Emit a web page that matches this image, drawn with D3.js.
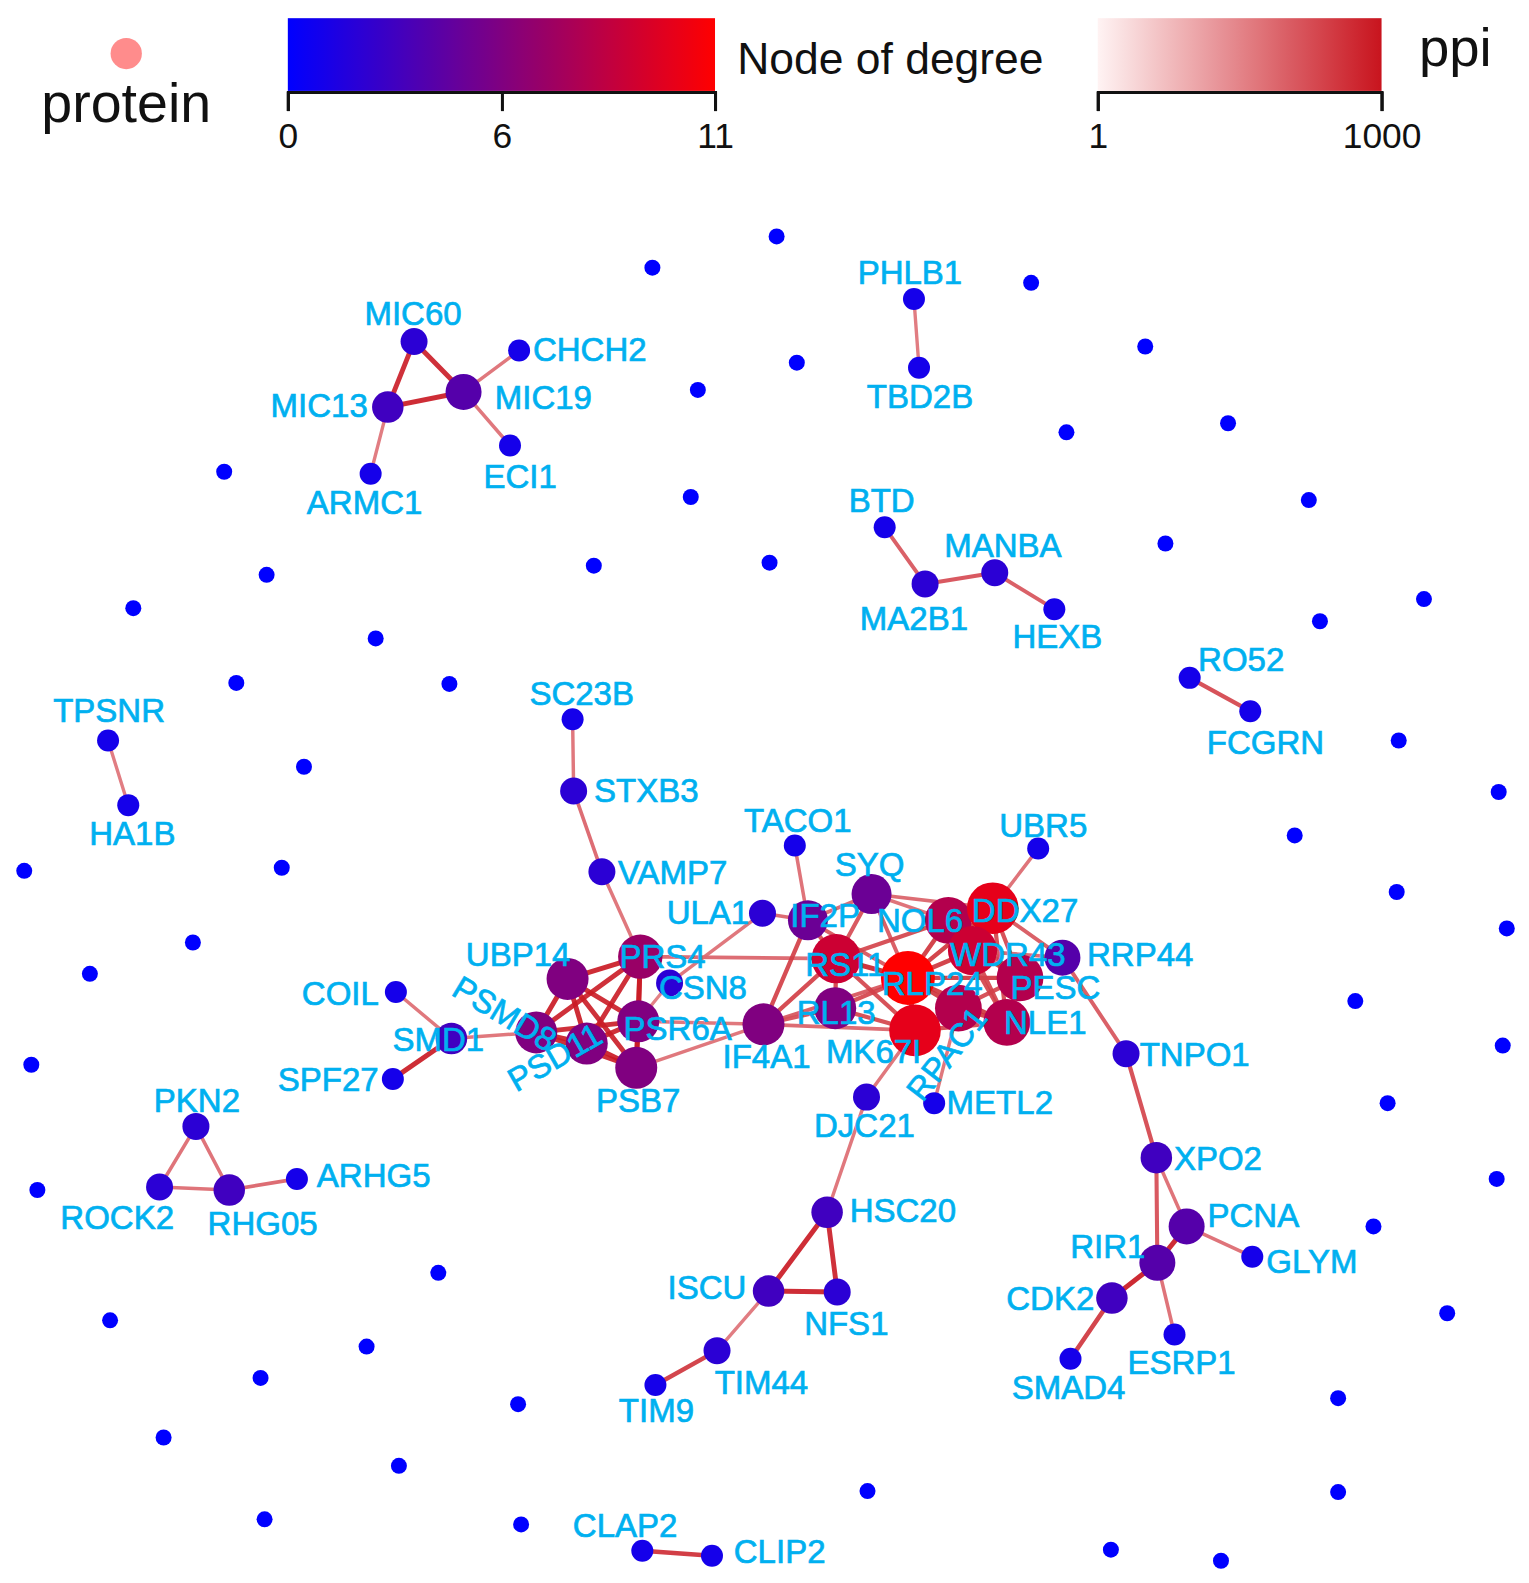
<!DOCTYPE html>
<html>
<head>
<meta charset="utf-8">
<script src="https://cdn.jsdelivr.net/npm/d3@7"></script>
<style>
  html, body { margin: 0; padding: 0; background: #fff; }
  svg { display: block; }
</style>
</head>
<body>
<svg id="chart" width="1529" height="1583"></svg>
<script>
// ---------------- DATA ----------------
// proteins: name, layout x, layout y, node degree
const proteins = [
  ["MIC60",410,338,2],["MIC13",384,403,3],["MIC19",459,388,4],["CHCH2",514,347,1],
  ["ECI1",505,441,1],["ARMC1",367,469,1],["PHLB1",905,296,1],["TBD2B",910,364,1],
  ["BTD",876,522,1],["MA2B1",916,578,2],["MANBA",985,567,2],["HEXB",1044,603,1],
  ["RO52",1178,671,1],["FCGRN",1238,704,1],["TPSNR",107,733,1],["HA1B",127,797,1],
  ["SC23B",567,712,1],["STXB3",568,783,2],["VAMP7",596,863,2],["TACO1",787,837,1],
  ["UBR5",1028,840,1],["SYQ",863,885,5],["ULA1",755,904,2],["IF2P",800,911,5],
  ["NOL6",939,911,8],["DDX27",983,899,10],["WDR43",963,941,9],["RRP44",1052,948,4],
  ["RS11",828,949,9],["RLP24",899,968,11],["PESC",1010,968,8],["RL13",827,998,6],
  ["MK67I",906,1020,10],["RPAC1",949,998,8],["NLE1",997,1012,8],["IF4A1",756,1014,6],
  ["UBP14",562,969,6],["PRS4",634,947,7],["CSN8",663,973,2],["PSR6A",632,1011,6],
  ["PSMD8",531,1022,6],["PSD11",581,1033,6],["PSB7",630,1057,6],["COIL",392,982,1],
  ["SMD1",447,1028,3],["SPF27",389,1068,1],["DJC21",858,1086,2],["METL2",925,1092,1],
  ["TNPO1",1115,1043,2],["XPO2",1145,1146,3],["PCNA",1175,1214,4],["RIR1",1146,1250,4],
  ["GLYM",1240,1244,1],["CDK2",1101,1285,3],["SMAD4",1060,1345,1],["ESRP1",1163,1321,1],
  ["HSC20",819,1200,3],["ISCU",761,1278,3],["NFS1",829,1279,2],["TIM44",710,1337,2],
  ["TIM9",649,1371,1],["PKN2",194,1115,2],["ROCK2",158,1175,2],["RHG05",227,1178,3],
  ["ARHG5",294,1167,1],["CLAP2",636,1535,1],["CLIP2",705,1540,1]
];

// unlabeled proteins with no interaction (degree 0): layout x, layout y
const isolated = [
  [769,234],[646,265],[1021,280],[789,359],[691,386],[1134,343],[1216,419],[1056,428],
  [222,467],[684,492],[1296,495],[1154,538],[264,569],[588,560],[762,557],[132,602],
  [1410,593],[1307,615],[372,632],[234,676],[445,677],[1385,733],[301,759],[1484,784],
  [1282,827],[279,859],[24,862],[1383,883],[1492,919],[191,933],[89,964],[1342,991],
  [31,1054],[1488,1035],[1374,1092],[37,1178],[1482,1167],[1360,1214],[434,1260],
  [109,1307],[1433,1300],[363,1333],[258,1364],[1325,1384],[513,1390],[162,1423],
  [395,1451],[859,1476],[1325,1477],[262,1504],[516,1509],[1100,1534],[1209,1545]
];

// interactions: source, target, ppi score
const interactions = [
  ["MIC60","MIC13",800],["MIC60","MIC19",800],["MIC13","MIC19",900],["MIC19","CHCH2",70],
  ["MIC19","ECI1",70],["MIC13","ARMC1",60],["PHLB1","TBD2B",60],["BTD","MA2B1",150],
  ["MA2B1","MANBA",200],["MANBA","HEXB",150],["RO52","FCGRN",250],["TPSNR","HA1B",60],
  ["SC23B","STXB3",70],["STXB3","VAMP7",100],["VAMP7","PRS4",70],["TACO1","IF2P",80],
  ["UBR5","DDX27",80],["SMD1","COIL",70],["SMD1","SPF27",900],["SMD1","PSMD8",70],
  ["PKN2","ROCK2",80],["PKN2","RHG05",80],["ROCK2","RHG05",80],["RHG05","ARHG5",100],
  ["DJC21","MK67I",70],["DJC21","HSC20",70],["HSC20","ISCU",900],["HSC20","NFS1",800],
  ["ISCU","NFS1",900],["ISCU","TIM44",60],["TIM44","TIM9",400],["RRP44","TNPO1",150],
  ["TNPO1","XPO2",250],["XPO2","RIR1",200],["XPO2","PCNA",80],["PCNA","RIR1",900],
  ["PCNA","GLYM",80],["RIR1","CDK2",1000],["RIR1","ESRP1",80],["CDK2","SMAD4",400],
  ["CLAP2","CLIP2",500],["METL2","RPAC1",70],
  ["UBP14","PRS4",900],["UBP14","PSMD8",900],["UBP14","PSD11",900],["UBP14","PSB7",800],
  ["UBP14","PSR6A",800],["PRS4","PSMD8",800],["PRS4","PSD11",800],["PRS4","PSR6A",800],
  ["PRS4","PSB7",800],["PSMD8","PSD11",900],["PSMD8","PSR6A",800],["PSMD8","PSB7",800],
  ["PSD11","PSR6A",800],["PSD11","PSB7",900],["PSR6A","PSB7",800],
  ["PRS4","RS11",100],["PSR6A","IF4A1",70],["PSB7","IF4A1",70],["CSN8","ULA1",70],
  ["CSN8","PSR6A",50],["ULA1","IF2P",100],
  ["IF4A1","IF2P",300],["IF4A1","RS11",300],["IF4A1","RL13",200],["IF4A1","RLP24",150],
  ["IF4A1","MK67I",100],["IF2P","SYQ",100],["IF2P","RS11",250],["IF2P","RLP24",150],
  ["SYQ","RS11",200],["SYQ","RLP24",150],["SYQ","DDX27",100],["SYQ","NOL6",80],
  ["RS11","RLP24",700],["RS11","RL13",300],["RS11","NOL6",250],["RS11","MK67I",250],
  ["RL13","RLP24",250],["RL13","MK67I",250],["RLP24","MK67I",700],["RLP24","NOL6",400],
  ["RLP24","WDR43",400],["RLP24","DDX27",400],["RLP24","PESC",400],["RLP24","NLE1",400],
  ["RLP24","RPAC1",400],["DDX27","NOL6",400],["DDX27","WDR43",400],["DDX27","RRP44",150],
  ["DDX27","PESC",250],["DDX27","NLE1",250],["NOL6","WDR43",400],["NOL6","PESC",250],
  ["NOL6","NLE1",250],["WDR43","PESC",400],["WDR43","NLE1",250],["WDR43","RRP44",100],
  ["PESC","NLE1",400],["PESC","RPAC1",250],["NLE1","RPAC1",400],["NLE1","MK67I",250],
  ["MK67I","RPAC1",400]
];

// legend tick labels
const degreeTicks = [0, 6, 11];
const ppiTicks = [1, 1000];

// label placement (layout coords of text centre, optional rotation)
const labelSpots = {
  MIC60:[409,310], CHCH2:[584,346], MIC13:[316,401], MIC19:[538,393], ECI1:[515,471], ARMC1:[361,497],
  PHLB1:[901,269], TBD2B:[911,392], BTD:[873,495], MA2B1:[905,612], MANBA:[993,540], HEXB:[1047,630],
  RO52:[1229,652], FCGRN:[1253,735], TPSNR:[108,703], HA1B:[131,825], SC23B:[576,686], STXB3:[640,782],
  VAMP7:[666,863], TACO1:[790,812], UBR5:[1033,817], SYQ:[861,855], ULA1:[701,903], IF2P:[817,906],
  NOL6:[911,911], DDX27:[1015,901], WDR43:[998,944], RRP44:[1129,944], RS11:[837,954], RLP24:[923,973],
  PESC:[1045,977], RL13:[828,1002], MK67I:[865,1040], RPAC1:[937,1043,-52], NLE1:[1035,1012],
  IF4A1:[759,1045], UBP14:[513,944], PRS4:[656,946], CSN8:[696,977], PSR6A:[671,1018], PSMD8:[500,1003,31],
  PSD11:[549,1046,-30], PSB7:[632,1089], COIL:[337,983], SMD1:[434,1029], SPF27:[325,1068], DJC21:[856,1114],
  METL2:[990,1091], TNPO1:[1183,1043], XPO2:[1206,1146], PCNA:[1241,1203], RIR1:[1097,1234], GLYM:[1299,1248],
  CDK2:[1040,1285], SMAD4:[1058,1373], ESRP1:[1170,1348], HSC20:[894,1198], ISCU:[700,1274], NFS1:[838,1310],
  TIM44:[754,1368], TIM9:[650,1396], PKN2:[195,1089], ROCK2:[116,1205], RHG05:[260,1211], ARHG5:[370,1163],
  CLAP2:[619,1510], CLIP2:[772,1535]
};

// ---------------- DRAW ----------------
const svg = d3.select("#chart");
const W = 1529, H = 1583;
const x = d3.scaleLinear().domain([0, 1514]).range([0, W]);
const y = d3.scaleLinear().domain([0, 1567]).range([0, H]);
const FONT = "'Liberation Sans', Arial, sans-serif";

const degColor = d3.scaleLinear().domain([0, 6, 11]).range(["#0000ff", "#800080", "#ff0000"]).interpolate(d3.interpolateRgb);
const degRadius = d3.scaleLinear().domain([0, 1, 2, 4, 5, 6, 11]).range([8, 11, 13.5, 18, 20, 21, 27]);
const ppiColor = d3.scaleLog().domain([1, 1000]).range(["#fff3f3", "#c8141e"]).interpolate(d3.interpolateRgb).clamp(true);
const ppiWidth = d3.scaleLog().domain([1, 1000]).range([1, 5]).clamp(true);

const defs = svg.append("defs");
const degAxisScale = d3.scaleLinear().domain([0, 6, 11]).range([285, 497, 708]);
const g1 = defs.append("linearGradient").attr("id", "degGrad");
d3.range(0, 11.01, 0.5).forEach(v => {
  g1.append("stop").attr("offset", (degAxisScale(v) - 285) / (708 - 285)).attr("stop-color", degColor(v));
});
const ppiAxisScale = d3.scaleLog().domain([1, 1000]).range([1087, 1368]);
const g2 = defs.append("linearGradient").attr("id", "ppiGrad");
[1, 2, 5, 10, 20, 50, 100, 200, 500, 1000].forEach(v => {
  g2.append("stop").attr("offset", (ppiAxisScale(v) - 1087) / (1368 - 1087)).attr("stop-color", ppiColor(v));
});

// legend (in layout space)
const legend = svg.append("g").attr("transform", `scale(${W / 1514},${H / 1567})`);
legend.append("circle").attr("cx", 125).attr("cy", 53).attr("r", 15.5).attr("fill", "#ff8c8c");
legend.append("text").attr("x", 125).attr("y", 121).attr("text-anchor", "middle")
  .attr("font-family", FONT).attr("font-size", 55).attr("fill", "#111").text("protein");

legend.append("rect").attr("x", 285).attr("y", 18).attr("width", 708 - 285).attr("height", 72).attr("fill", "url(#degGrad)");
const degAxis = legend.append("g").attr("transform", "translate(0,91)")
  .call(d3.axisBottom(degAxisScale).tickValues(degreeTicks).tickFormat(d3.format("d")).tickSize(19).tickSizeOuter(19).tickPadding(12));
legend.append("text").attr("x", 730).attr("y", 73)
  .attr("font-family", FONT).attr("font-size", 44).attr("fill", "#111").text("Node of degree");

legend.append("rect").attr("x", 1087).attr("y", 18).attr("width", 1368 - 1087).attr("height", 72).attr("fill", "url(#ppiGrad)");
const ppiAxis = legend.append("g").attr("transform", "translate(0,91)")
  .call(d3.axisBottom(ppiAxisScale).tickValues(ppiTicks).tickFormat(d3.format("d")).tickSize(19).tickSizeOuter(19).tickPadding(12));
legend.append("text").attr("x", 1405).attr("y", 65)
  .attr("font-family", FONT).attr("font-size", 54).attr("fill", "#111").text("ppi");

[degAxis, ppiAxis].forEach(a => {
  a.selectAll("path, line").attr("stroke", "#111").attr("stroke-width", 3);
  a.selectAll("text").attr("font-family", FONT).attr("font-size", 35).attr("fill", "#111");
});

// network
const byName = new Map(proteins.map(p => [p[0], p]));

svg.append("g").selectAll("line").data(interactions).join("line")
  .attr("x1", d => x(byName.get(d[0])[1])).attr("y1", d => y(byName.get(d[0])[2]))
  .attr("x2", d => x(byName.get(d[1])[1])).attr("y2", d => y(byName.get(d[1])[2]))
  .attr("stroke", d => ppiColor(d[2])).attr("stroke-width", d => ppiWidth(d[2]))
  .attr("stroke-linecap", "round").attr("opacity", 0.9);

svg.append("g").selectAll("circle").data(isolated).join("circle")
  .attr("cx", d => x(d[0])).attr("cy", d => y(d[1])).attr("r", degRadius(0)).attr("fill", degColor(0));

svg.append("g").selectAll("circle").data(proteins).join("circle")
  .attr("cx", d => x(d[1])).attr("cy", d => y(d[2])).attr("r", d => degRadius(d[3])).attr("fill", d => degColor(d[3]));

svg.append("g").selectAll("text").data(proteins).join("text")
  .attr("transform", d => {
    const s = labelSpots[d[0]];
    return `translate(${x(s[0])},${y(s[1])}) rotate(${s[2] || 0})`;
  })
  .attr("text-anchor", "middle").attr("dy", "0.36em")
  .attr("font-family", FONT).attr("font-size", 33)
  .attr("fill", "#00b0f0").attr("stroke", "#00b0f0").attr("stroke-width", 0.7)
  .text(d => d[0]);
</script>
</body>
</html>
